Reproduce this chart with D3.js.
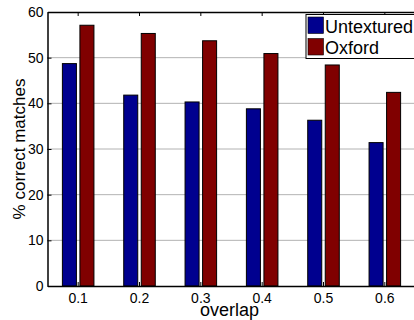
<!DOCTYPE html>
<html>
<head>
<meta charset="utf-8">
<script src="https://cdn.jsdelivr.net/npm/d3@7"></script>
<style>
  body { margin: 0; background: #fff; }
  svg { display: block; font-family: "Liberation Sans", Arial, Helvetica, sans-serif; }
</style>
</head>
<body>
<svg id="chart" width="414" height="320"></svg>
<script>
// data
const categories = ["0.1", "0.2", "0.3", "0.4", "0.5", "0.6"];
const seriesNames = ["Untextured", "Oxford"];
const untextured = [48.7, 41.8, 40.3, 38.8, 36.3, 31.4];
const oxford = [57.1, 55.3, 53.7, 50.9, 48.4, 42.4];
const yTicks = [0, 10, 20, 30, 40, 50, 60];
const colors = ["#00008f", "#800000"];

const svg = d3.select("#chart");
const plotL = 47.5, plotR = 415.5, plotT = 12, plotB = 286;

const rows = categories.map((c, i) => ({cat: c, vals: [untextured[i], oxford[i]]}));

// group scale, MATLAB style xlim [0.5, 6.5]
const x0 = d3.scaleBand().domain(categories).range([plotL, plotR]);
const bw = x0.bandwidth();
// grouped bars take 4/7 of the group, each bar 80% of its slot
const x1 = d3.scaleBand()
    .domain(seriesNames)
    .range([bw / 2 - bw * 2 / 7, bw / 2 + bw * 2 / 7])
    .paddingInner(0.2)
    .paddingOuter(0.1);
const y = d3.scaleLinear().domain([0, 60]).range([plotB, plotT]);

// dotted grid
svg.append("g")
    .selectAll("line")
    .data(yTicks.filter(d => d > 0 && d < 60))
    .enter()
    .append("line")
        .attr("x1", plotL).attr("x2", plotR)
        .attr("y1", d => y(d)).attr("y2", d => y(d))
        .style("stroke", "#666")
        .style("stroke-width", 1)
        .style("stroke-dasharray", "1,1");

// bars
const groups = svg.append("g")
    .selectAll("g")
    .data(rows)
    .enter()
    .append("g")
        .attr("transform", d => "translate(" + x0(d.cat) + ",0)");

groups.selectAll("rect")
    .data(d => d.vals.map((v, j) => ({name: seriesNames[j], v: v, j: j})))
    .enter()
    .append("rect")
        .attr("x", d => x1(d.name))
        .attr("y", d => y(d.v))
        .attr("width", x1.bandwidth())
        .attr("height", d => y(0) - y(d.v))
        .style("fill", d => colors[d.j])
        .style("stroke", "#000")
        .style("stroke-width", 1);

// axes (MATLAB box, ticks inward)
const axisLeft = d3.axisLeft(y).tickValues(yTicks).tickSizeInner(-4).tickSizeOuter(0).tickPadding(4);
const gy = svg.append("g")
    .attr("transform", "translate(" + plotL + ",0)")
    .call(axisLeft);
gy.select(".domain").style("stroke-width", 1.5);
gy.selectAll("text").style("font-size", "14px").style("fill", "#000")
    .attr("x", -4);

const axisBottom = d3.axisBottom(x0).tickSizeInner(-4).tickSizeOuter(0).tickPadding(7);
const gx = svg.append("g")
    .attr("transform", "translate(0," + plotB + ")")
    .call(axisBottom);
gx.select(".domain").style("stroke-width", 1.5);
gx.selectAll("text").style("font-size", "14px").style("fill", "#000")
    .attr("y", 7);

const axisTop = d3.axisTop(x0).tickSizeInner(-4).tickSizeOuter(0).tickFormat("");
const gt = svg.append("g")
    .attr("transform", "translate(0," + plotT + ")")
    .call(axisTop);
gt.select(".domain").style("stroke-width", 1.5);

svg.append("line")
    .attr("x1", plotR).attr("x2", plotR)
    .attr("y1", plotT).attr("y2", plotB)
    .style("stroke", "#000").style("stroke-width", 1.5);

// axis titles
svg.append("text")
    .attr("transform", "translate(25," + ((plotT + plotB) / 2) + ") rotate(-90)")
    .style("text-anchor", "middle")
    .style("font-size", "17px")
    .text("% correct matches");

svg.append("text")
    .attr("x", (plotL + plotR) / 2 - 2)
    .attr("y", 316)
    .style("text-anchor", "middle")
    .style("font-size", "18px")
    .text("overlap");

// legend
const lg = svg.append("g").attr("transform", "translate(306,14.5)");
lg.append("rect")
    .attr("width", 112).attr("height", 44)
    .style("fill", "#fff").style("stroke", "#000").style("stroke-width", 1);
seriesNames.forEach((name, j) => {
    lg.append("rect")
        .attr("x", 2).attr("y", 2.5 + j * 21.5)
        .attr("width", 15.5).attr("height", 16.5)
        .style("fill", colors[j]).style("stroke", "#000").style("stroke-width", 0.6);
    lg.append("text")
        .attr("x", 19).attr("y", 18 + j * 21)
        .style("font-size", "18px")
        .text(name);
});
</script>
</body>
</html>
